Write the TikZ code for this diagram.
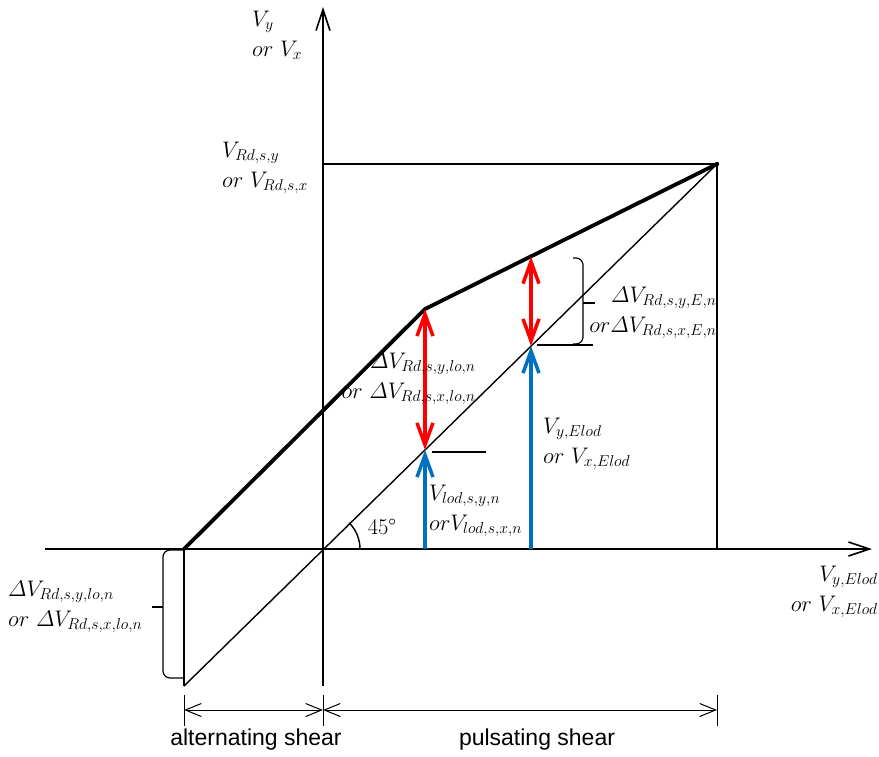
\RequirePackage{fix-cm}
\documentclass[tikz,border=0pt]{standalone}
\usepackage{amsmath}
\usepackage{fontspec}
\newfontfamily\sansf{Liberation Sans}
\usetikzlibrary{arrows.meta}
\definecolor{myred}{RGB}{255,0,0}
\definecolor{myblue}{RGB}{0,112,192}
\begin{document}
\begin{tikzpicture}[x=1pt,y=-1pt,
  thinline/.style={line width=1.4pt},
  boldline/.style={line width=3.8pt, line join=round},
  axisline/.style={line width=1.6pt, -{Straight Barb[length=21pt,width=14pt]}},
  redarrow/.style={myred, line width=3.5pt, {Straight Barb[length=22pt,width=16pt]}-{Straight Barb[length=22pt,width=16pt]}},
  bluearrow/.style={myblue, line width=3.5pt, -{Straight Barb[length=22pt,width=16pt]}},
  dimarrow/.style={line width=1pt, {Straight Barb[length=16pt,width=13pt]}-{Straight Barb[length=16pt,width=13pt]}},
  bracket/.style={line width=1.2pt, rounded corners=7pt},
  lbl/.style={inner sep=0pt, font=\fontsize{22.5}{30}\selectfont},
  sanslbl/.style={inner sep=0pt, font=\sansf\fontsize{23}{27}\selectfont},
]
\useasboundingbox (0,0) rectangle (879,756);
% key points
\coordinate (O) at (323,549);
\coordinate (xs) at (45,549);
\coordinate (xe) at (872,549);
\coordinate (ys) at (323,686);
\coordinate (ye) at (323,7);
\coordinate (P) at (717,164);
\coordinate (Ptop) at (323,164);
\coordinate (Pbot) at (717,549);
\coordinate (D0) at (184,686);
\coordinate (T0) at (184,549);
\coordinate (K) at (425,309);
\coordinate (B1) at (425,549);
\coordinate (A1) at (425,450);
\coordinate (B2) at (531,549);
\coordinate (A2) at (531,346);
\coordinate (U2) at (531,256.5);
% axes
\draw[axisline] (xs) -- (xe);
\draw[axisline] (ys) -- (ye);
% box
\draw[thinline] (Ptop) -- (P) -- (Pbot);
% diagonal
\draw[thinline] (D0) -- (P);
\draw[thinline] (T0) -- (D0);
% bold envelope
\draw[boldline] (T0) -- (K) -- (P);
\fill (P) circle (2.2pt);
% angle
\draw[thinline] (360,549) arc[start angle=0,end angle=45,radius=37pt];
\node[lbl] (ang) at (382,527) {45°};
% arrows
\draw[bluearrow] (B1) -- (A1);
\draw[bluearrow] (B2) -- (A2);
\draw[redarrow] (K) -- (A1);
\draw[redarrow] (U2) -- (A2);
% short lines
\coordinate (h1a) at (537,345);
\coordinate (h1b) at (593,345);
\coordinate (h2a) at (432,452);
\coordinate (h2b) at (486,452);
\draw[thinline] (h1a) -- (h1b);
\draw[thinline] (h2a) -- (h2b);
% right bracket
\coordinate (rb1) at (573,258);
\coordinate (rb2) at (573,344);
\coordinate (rbm) at (583,303);
\coordinate (rbt) at (595,303);
\draw[bracket] (rb1) -- (583,258) -- (583,344) -- (rb2);
\draw[line width=1.2pt] (rbm) -- (rbt);
% left bracket
\coordinate (lb1) at (183,550);
\coordinate (lb2) at (183,678);
\coordinate (lbm) at (163,607);
\coordinate (lbt) at (152,607);
\draw[bracket] (lb1) -- (163,550) -- (163,678) -- (lb2);
\draw[line width=1.2pt] (lbm) -- (lbt);
% dimension lines
\coordinate (d1a) at (184,695); \coordinate (d1b) at (184,726);
\coordinate (d2a) at (323,695); \coordinate (d2b) at (323,726);
\coordinate (d3a) at (717,695); \coordinate (d3b) at (717,726);
\draw[line width=1pt] (d1a) -- (d1b);
\draw[line width=1pt] (d2a) -- (d2b);
\draw[line width=1pt] (d3a) -- (d3b);
\coordinate (e1) at (184,710); \coordinate (e2) at (323,710); \coordinate (e3) at (717,710);
\draw[dimarrow] (e1) -- (e2);
\draw[dimarrow] (e2) -- (e3);
\node[sanslbl] (alt) at (256,740) {alternating shear};
\node[sanslbl] (pul) at (537,740) {pulsating shear};
% labels
\node[lbl, anchor=west, align=left] (lVy) at (252,35) {$V_y$\\$or\ V_x$};
\node[lbl, anchor=west, align=left] (lVR) at (222,168) {$V_{Rd,s,y}$\\$or\ V_{Rd,s,x}$};
\node[lbl, anchor=east, align=right] (lE) at (717,313) {$\varDelta V_{Rd,s,y,E,n}$\\$or\varDelta V_{Rd,s,x,E,n}$};
\node[lbl, anchor=east, align=right] (lLo) at (476,379) {$\varDelta V_{Rd,s,y,lo,n}$\\$or\ \varDelta V_{Rd,s,x,lo,n}$};
\node[lbl, anchor=west, align=left] (lLod) at (429,511) {$V_{lod,s,y,n}$\\$orV_{lod,s,x,n}$};
\node[lbl, anchor=west, align=left] (lEl) at (543,444) {$V_{y,Elod}$\\$or\ V_{x,Elod}$};
\node[lbl, anchor=east, align=right] (lX) at (878,592) {$V_{y,Elod}$\\$or\ V_{x,Elod}$};
\node[lbl, anchor=west, align=left] (lL) at (8,607) {$\varDelta V_{Rd,s,y,lo,n}$\\$or\ \varDelta V_{Rd,s,x,lo,n}$};
\end{tikzpicture}
\end{document}
